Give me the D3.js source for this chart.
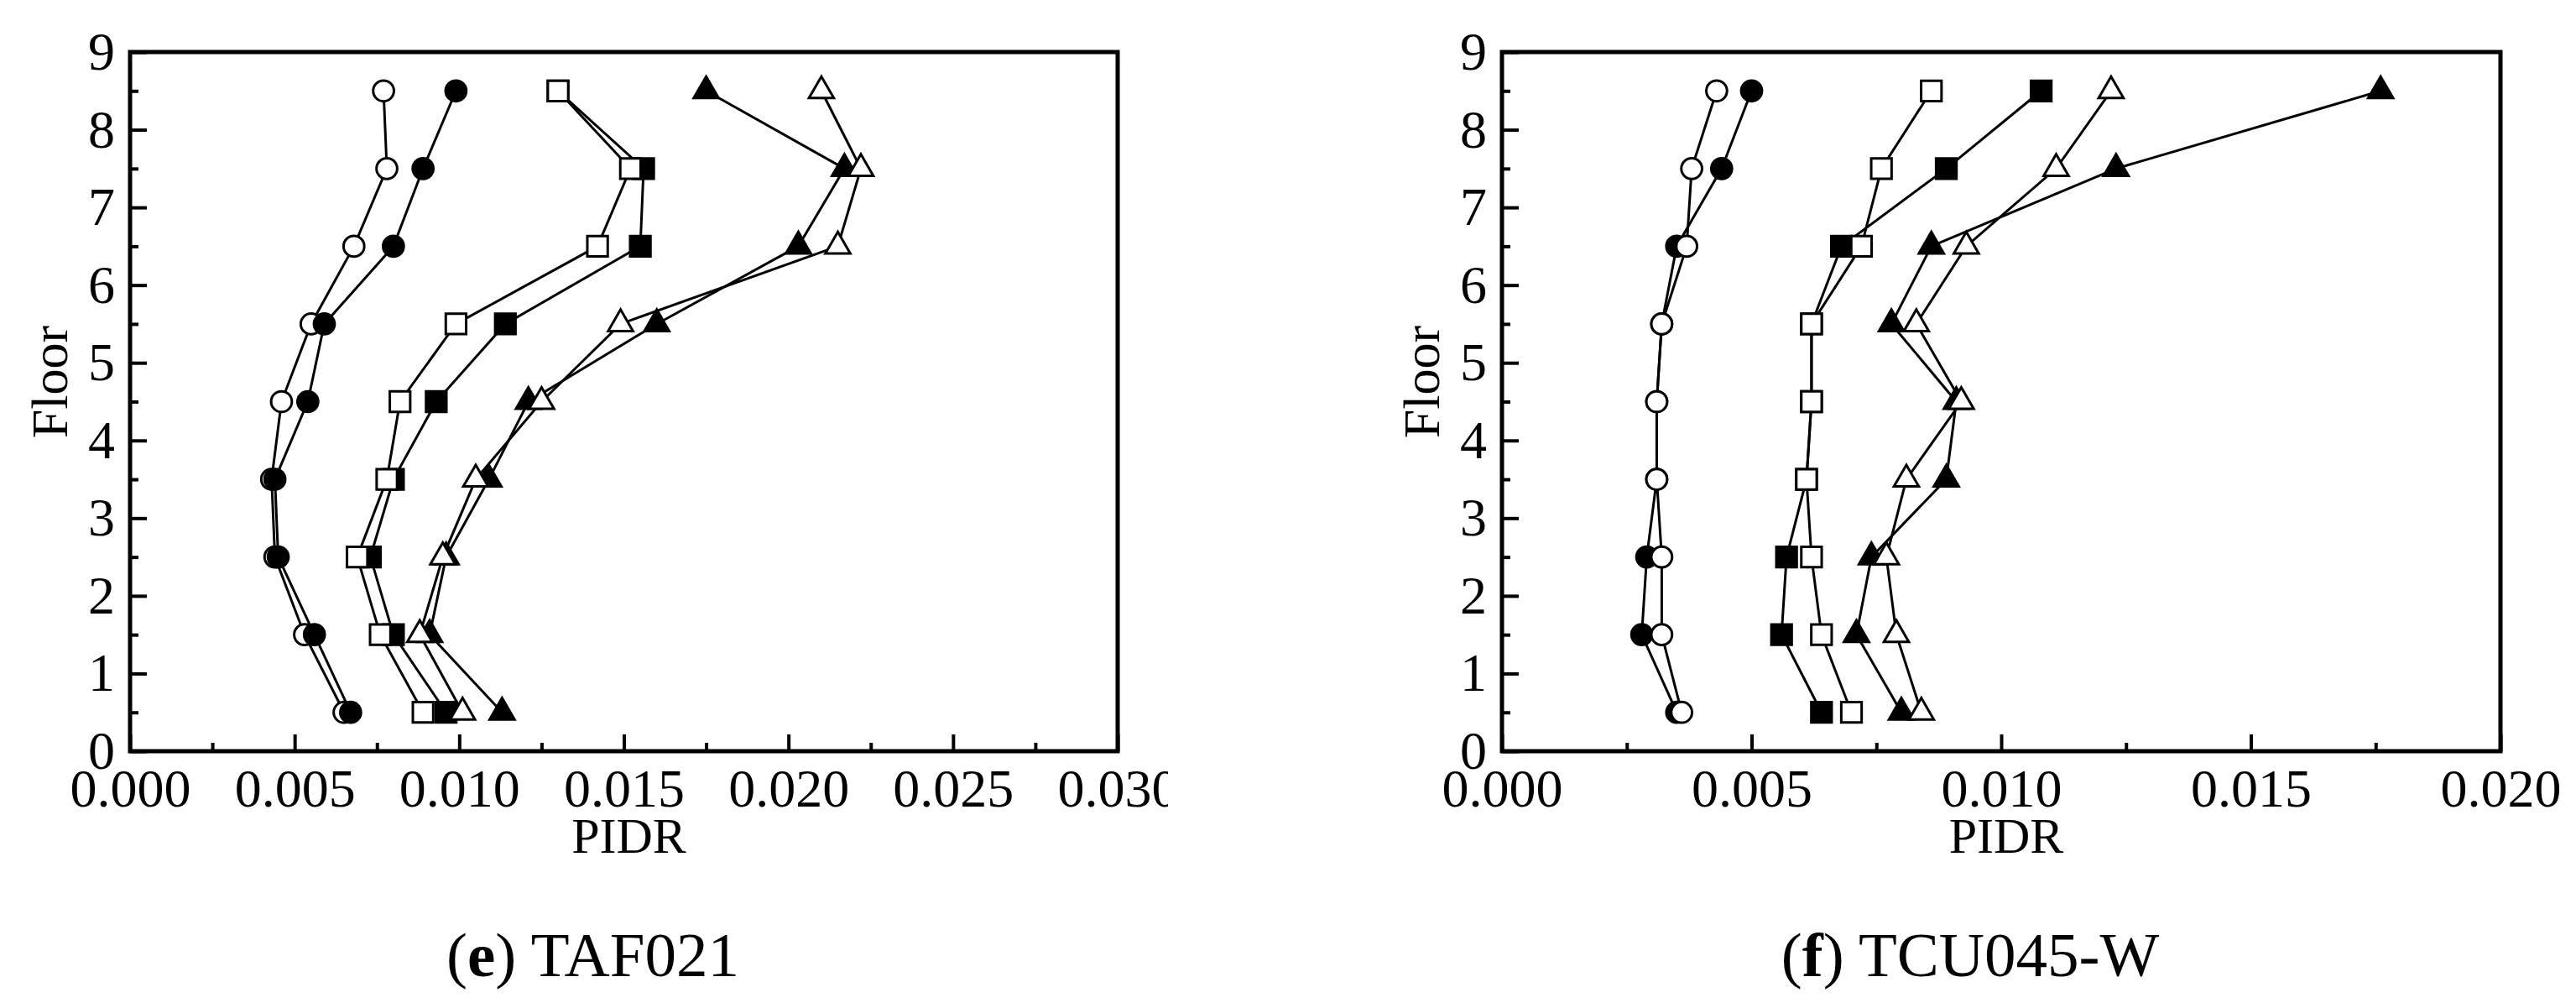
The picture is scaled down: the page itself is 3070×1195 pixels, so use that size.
<!DOCTYPE html>
<html>
<head>
<meta charset="utf-8">
<script src="https://cdn.jsdelivr.net/npm/d3@7"></script>
<style>
  body { margin: 0; background: #fff; }
  text { font-family: "Liberation Serif", "Times New Roman", serif; fill: #000; }
</style>
</head>
<body>
<div id="chart"></div>
<script>
// floors where the drifts were sampled (mid-height of each storey)
const floors = [0.5, 1.5, 2.5, 3.5, 4.5, 5.5, 6.5, 7.5, 8.5];
const yTicks = [0, 1, 2, 3, 4, 5, 6, 7, 8, 9];
const yMinor = [0.5, 1.5, 2.5, 3.5, 4.5, 5.5, 6.5, 7.5, 8.5];

// (e) TAF021
const tafTicks = [0, 0.005, 0.010, 0.015, 0.020, 0.025, 0.030];
const tafMinor = [0.0025, 0.0075, 0.0125, 0.0175, 0.0225, 0.0275];
const tafOpenCircle    = [0.0065, 0.0053, 0.0044, 0.0043, 0.0046, 0.0055, 0.0068, 0.0078, 0.0077];
const tafFilledCircle  = [0.0067, 0.0056, 0.0045, 0.0044, 0.0054, 0.0059, 0.0080, 0.0089, 0.0099];
const tafOpenSquare    = [0.0089, 0.0076, 0.0069, 0.0078, 0.0082, 0.0099, 0.0142, 0.0152, 0.0130];
const tafFilledSquare  = [0.0096, 0.0080, 0.0073, 0.0080, 0.0093, 0.0114, 0.0155, 0.0156, 0.0130];
const tafOpenTriangle  = [0.0101, 0.0088, 0.0095, 0.0105, 0.0125, 0.0149, 0.0215, 0.0222, 0.0210];
const tafFilledTriangle= [0.0113, 0.0091, 0.0096, 0.0109, 0.0121, 0.0160, 0.0203, 0.0217, 0.0175];

// (f) TCU045-W
const tcuTicks = [0, 0.005, 0.010, 0.015, 0.020];
const tcuMinor = [0.0025, 0.0075, 0.0125, 0.0175];
const tcuOpenCircle    = [0.0036, 0.0032, 0.0032, 0.0031, 0.0031, 0.0032, 0.0037, 0.0038, 0.0043];
const tcuFilledCircle  = [0.0035, 0.0028, 0.0029, 0.0031, 0.0031, 0.0032, 0.0035, 0.0044, 0.0050];
const tcuOpenSquare    = [0.0070, 0.0064, 0.0062, 0.0061, 0.0062, 0.0062, 0.0072, 0.0076, 0.0086];
const tcuFilledSquare  = [0.0064, 0.0056, 0.0057, 0.0061, 0.0062, 0.0062, 0.0068, 0.0089, 0.0108];
const tcuOpenTriangle  = [0.0084, 0.0079, 0.0077, 0.0081, 0.0092, 0.0083, 0.0093, 0.0111, 0.0122];
const tcuFilledTriangle= [0.0080, 0.0071, 0.0074, 0.0089, 0.0091, 0.0078, 0.0086, 0.0123, 0.0176];

const plotTop = 62, plotBottom = 895;

var svg = d3.select("#chart")
			.append("svg")
			.attr("width", 3070)
			.attr("height", 1195);

svg.append("rect").attr("width", 3070).attr("height", 1195).attr("fill", "#fff");

var symbols = {
	circle: d3.symbol().type(d3.symbolCircle).size(480),
	square: d3.symbol().type(d3.symbolSquare).size(590),
	triangle: d3.symbol().type(d3.symbolTriangle).size(380)
};

function drawPanel(p) {
	var g = svg.append("g");

	// the left figure was cropped through its last tick label
	if (p.clipRight) {
		svg.append("defs").append("clipPath").attr("id", p.id + "-clip")
		   .append("rect").attr("x", 0).attr("y", 0).attr("width", p.clipRight).attr("height", 1195);
		g.attr("clip-path", "url(#" + p.id + "-clip)");
	}

	var xScale = d3.scaleLinear().domain([0, p.xMax]).range([p.left, p.right]);
	var yScale = d3.scaleLinear().domain([0, 9]).range([plotBottom, plotTop]);

	// minor ticks, pointing inward
	g.append("g")
	 .attr("transform", "translate(0," + plotBottom + ")")
	 .call(d3.axisBottom(xScale).tickValues(p.minor).tickSize(-10).tickFormat(""));
	g.append("g")
	 .attr("transform", "translate(" + p.left + ",0)")
	 .call(d3.axisLeft(yScale).tickValues(yMinor).tickSize(-10).tickFormat(""));

	// major ticks + labels
	g.append("g")
	 .attr("class", "x-axis")
	 .attr("transform", "translate(0," + plotBottom + ")")
	 .call(d3.axisBottom(xScale).tickValues(p.ticks).tickSize(-20).tickPadding(21).tickFormat(d3.format(".3f")));
	g.append("g")
	 .attr("class", "y-axis")
	 .attr("transform", "translate(" + p.left + ",0)")
	 .call(d3.axisLeft(yScale).tickValues(yTicks).tickSize(-20).tickPadding(18).tickFormat(d3.format("d")));

	g.selectAll(".domain").remove();
	g.selectAll(".tick line").attr("stroke", "#000").attr("stroke-width", 4);
	g.selectAll(".tick text")
	 .attr("font-family", "Liberation Serif, Times New Roman, serif")
	 .attr("font-size", 64)
	 .attr("fill", "#000");

	// frame
	g.append("rect")
	 .attr("x", p.left).attr("y", plotTop)
	 .attr("width", p.right - p.left).attr("height", plotBottom - plotTop)
	 .attr("fill", "none").attr("stroke", "#000").attr("stroke-width", 5);

	var line = d3.line()
				 .x(function(d){ return xScale(d.v); })
				 .y(function(d){ return yScale(d.f); });

	p.series.forEach(function(s) {
		var pts = s.values.map(function(v, i){ return {v: v, f: floors[i]}; });
		g.append("path")
		 .datum(pts)
		 .attr("d", line)
		 .attr("fill", "none")
		 .attr("stroke", "#000")
		 .attr("stroke-width", 3);
		g.selectAll(null)
		 .data(pts)
		 .enter()
		 .append("path")
		 .attr("transform", function(d){ return "translate(" + xScale(d.v) + "," + yScale(d.f) + ")"; })
		 .attr("d", symbols[s.shape])
		 .attr("fill", s.filled ? "#000" : "#fff")
		 .attr("stroke", "#000")
		 .attr("stroke-width", 3);
	});

	// axis titles
	var mid = (p.left + p.right) / 2;
	svg.append("text")
	   .attr("transform", "translate(" + (p.left - 75) + ",455) rotate(-90)")
	   .attr("text-anchor", "middle")
	   .attr("font-size", 62)
	   .text("Floor");
	svg.append("text")
	   .attr("x", mid + 6).attr("y", 1016)
	   .attr("text-anchor", "middle")
	   .attr("font-size", 60)
	   .text("PIDR");

	// caption
	var cap = svg.append("text")
				 .attr("x", mid - 37).attr("y", 1163)
				 .attr("text-anchor", "middle")
				 .attr("font-size", 75);
	cap.append("tspan").text("(");
	cap.append("tspan").attr("font-weight", "bold").text(p.letter);
	cap.append("tspan").text(") " + p.name);
}

drawPanel({
	id: "taf", left: 155, right: 1332, xMax: 0.030, clipRight: 1392,
	ticks: tafTicks, minor: tafMinor, letter: "e", name: "TAF021",
	series: [
		{values: tafOpenCircle, shape: "circle", filled: false},
		{values: tafFilledCircle, shape: "circle", filled: true},
		{values: tafFilledSquare, shape: "square", filled: true},
		{values: tafOpenSquare, shape: "square", filled: false},
		{values: tafFilledTriangle, shape: "triangle", filled: true},
		{values: tafOpenTriangle, shape: "triangle", filled: false}
	]
});

drawPanel({
	id: "tcu", left: 1790, right: 2980, xMax: 0.020,
	ticks: tcuTicks, minor: tcuMinor, letter: "f", name: "TCU045-W",
	series: [
		{values: tcuFilledCircle, shape: "circle", filled: true},
		{values: tcuOpenCircle, shape: "circle", filled: false},
		{values: tcuFilledSquare, shape: "square", filled: true},
		{values: tcuOpenSquare, shape: "square", filled: false},
		{values: tcuFilledTriangle, shape: "triangle", filled: true},
		{values: tcuOpenTriangle, shape: "triangle", filled: false}
	]
});
</script>
</body>
</html>
